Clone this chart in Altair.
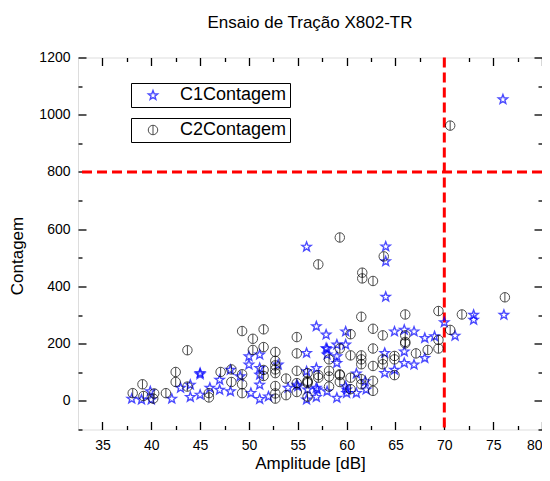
import math
import altair as alt
import pandas as pd

# ---- data ----
c1_x = [38.0, 39.0, 39.9, 40.0, 42.1, 43.0, 44.0, 44.0, 45.0, 45.0, 45.0, 46.0, 47.0, 47.0,
        48.1, 48.1, 49.1, 50.0, 50.0, 50.2, 51.1, 51.1, 51.1, 51.1, 51.1, 52.0, 53.0, 54.0,
        54.9, 55.0, 55.9, 55.9, 55.9, 56.0, 56.9, 56.9, 56.9, 56.9, 57.0, 57.9, 57.9, 58.0,
        58.0, 58.0, 59.0, 59.0, 59.0, 59.0, 59.9, 59.9, 59.9, 60.0, 60.0, 61.0, 61.0, 61.9,
        62.0, 63.9, 63.9, 64.9, 64.9, 65.9, 65.9, 65.9, 66.9, 66.9, 68.0, 68.0, 69.0, 70.0,
        71.1, 73.0, 73.0, 76.1, 55.9, 64.0, 64.0, 64.0, 76.0]
c1_y = [9, 6, 35, 6, 9, 47, 15, 58, 99, 94, 23, 47, 75, 40,
        110, 35, 87, 157, 128, 29, 163, 116, 93, 58, 8, 17, 128, 47,
        58, 52, 169, 105, 6, 41, 262, 116, 47, 15, 41, 233, 186, 163,
        183, 35, 198, 157, 134, 12, 244, 198, 52, 29, 41, 29, 97, 70,
        41, 169, 99, 244, 110, 250, 174, 134, 244, 128, 221, 151, 227, 276,
        229, 302, 285, 302, 540, 541, 489, 365, 1055]

c2_x = [38.1, 39.1, 39.2, 40.2, 40.3, 41.5, 42.5, 42.5, 43.7, 43.7, 45.9, 45.9, 47.1, 48.2,
        48.2, 49.3, 49.3, 49.3, 49.3, 50.4, 50.4, 51.5, 51.5, 51.5, 51.5, 52.7, 52.7, 52.7,
        52.7, 52.7, 52.7, 52.7, 52.7, 53.8, 53.8, 54.9, 54.9, 54.9, 54.9, 54.9, 56.0, 56.0,
        56.0, 56.0, 56.0, 57.1, 57.1, 58.2, 58.2, 58.2, 58.2, 59.3, 59.3, 59.3, 59.3, 60.4,
        60.4, 60.4, 60.4, 61.5, 61.5, 61.5, 61.5, 61.5, 61.5, 62.7, 62.7, 62.7, 62.7, 62.7,
        63.7, 63.7, 63.7, 64.9, 64.9, 64.9, 66.0, 66.0, 66.0, 66.0, 67.1, 68.3, 69.4, 69.4,
        69.4, 70.6, 71.8, 59.3, 57.1, 63.8, 61.6, 61.6, 62.7, 70.6, 76.2]
c2_y = [27, 58, 17, 8, 26, 27, 101, 66, 177, 50, 27, 12, 101, 110,
        66, 93, 58, 27, 244, 217, 178, 250, 188, 108, 87, 171, 140, 124,
        110, 97, 52, 26, 8, 78, 20, 223, 166, 105, 62, 31, 97, 70,
        62, 15, 66, 81, 90, 145, 105, 85, 50, 183, 90, 66, 93, 233,
        159, 81, 41, 294, 159, 145, 128, 76, 58, 252, 183, 122, 70, 35,
        229, 145, 128, 157, 145, 90, 302, 229, 206, 201, 166, 178, 314, 213,
        183, 248, 302, 571, 477, 505, 448, 428, 419, 962, 362]

x_ticks = [35, 40, 45, 50, 55, 60, 65, 70, 75, 80]
x_minor = [35 + 2.5 * i for i in range(19)]
y_ticks = [0, 200, 400, 600, 800, 1000, 1200]
y_minor = [-100 + 100 * i for i in range(14)]
h_line = [800]
v_line = [70]

c1 = pd.DataFrame({"amp": c1_x, "cnt": c1_y, "serie": "C1Contagem"})
c2 = pd.DataFrame({"amp": c2_x, "cnt": c2_y, "serie": "C2Contagem"})
hdf = pd.DataFrame({"cnt": h_line})
vdf = pd.DataFrame({"amp": v_line})

# ---- symbol paths ----
pts = []
for k in range(10):
    r = 1.0 if k % 2 == 0 else 0.42
    a = -math.pi / 2 + k * math.pi / 5
    pts.append(f"{r * math.cos(a):.3f},{r * math.sin(a) + 0.1:.3f}")
STAR = "M" + "L".join(pts) + "Z"
CIRC = "M-1,0A1,1,0,1,1,1,0A1,1,0,1,1,-1,0ZM0,-1L0,1"

W, H = 464, 372
FONT = "Liberation Sans"
xs = alt.Scale(domain=[32.5, 80], nice=False, zero=False)
ys = alt.Scale(domain=[-100, 1200], nice=False, zero=False)

xsize = {"condition": {"test": "datum.value % 5 == 0", "value": 8}, "value": 4}
ysize = {"condition": {"test": "datum.value % 200 == 0", "value": 8}, "value": 4}

def tick_axis(orient, values, size):
    return alt.Axis(orient=orient, offset=-(H if orient in ("top", "bottom") else W),
                    values=values, labels=False, domain=False, grid=False, title=None,
                    tickSize=size, tickColor="black", tickWidth=1.3)

stars = alt.Chart(c1).mark_point(shape=STAR, size=95, filled=False, stroke="#0000ff",
                                  strokeWidth=1.4).encode(
    x=alt.X("amp:Q", scale=xs,
            axis=alt.Axis(orient="bottom", values=x_ticks, ticks=False, domain=False,
                          grid=False, title="Amplitude [dB]", labelFontSize=14,
                          labelFont=FONT, labelColor="black", labelPadding=9,
                          titleFont=FONT, titleFontSize=17, titleFontWeight="normal",
                          titleColor="black", titleY=39, titleBaseline="alphabetic")),
    y=alt.Y("cnt:Q", scale=ys,
            axis=alt.Axis(orient="left", values=y_ticks, ticks=False, domain=False,
                          grid=False, title="Contagem", format="d", labelFontSize=14,
                          labelFont=FONT, labelColor="black", labelPadding=8,
                          titleFont=FONT, titleFontSize=17, titleFontWeight="normal",
                          titleColor="black", titleX=-61, titleY=198, titleAngle=270,
                          titleAlign="center", titleBaseline="middle")),
    shape=alt.Shape("serie:N", scale=alt.Scale(domain=["C1Contagem"], range=[STAR]),
                    legend=alt.Legend(orient="none", legendX=53, legendY=25.5, title=None,
                                      strokeColor="black", padding=3, symbolOffset=10,
                                      labelOffset=18, labelFontSize=18, labelFont=FONT,
                                      labelColor="black", symbolSize=95,
                                      symbolStrokeColor="#0000ff", symbolStrokeWidth=1.4,
                                      symbolFillColor="transparent")),
)

circles = alt.Chart(c2).mark_point(shape=CIRC, size=90, filled=False, stroke="black",
                                    strokeWidth=1).encode(
    x=alt.X("amp:Q", scale=xs, axis=tick_axis("top", x_minor, xsize)),
    y=alt.Y("cnt:Q", scale=ys, axis=tick_axis("right", y_minor, ysize)),
    color=alt.Color("serie:N", scale=alt.Scale(domain=["C2Contagem"], range=["black"]),
                    legend=alt.Legend(orient="none", legendX=53, legendY=60.5, title=None,
                                      strokeColor="black", padding=3, symbolOffset=10,
                                      labelOffset=18, labelFontSize=18, labelFont=FONT,
                                      labelColor="black", symbolSize=90, symbolType=CIRC,
                                      symbolStrokeColor="black", symbolStrokeWidth=1,
                                      symbolFillColor="transparent")),
)

hrule = alt.Chart(hdf).mark_rule(color="#ff0000", strokeWidth=3, strokeDash=[10, 5]).encode(
    y=alt.Y("cnt:Q", scale=ys, axis=tick_axis("left", y_minor, ysize)),
)
vrule = alt.Chart(vdf).mark_rule(color="#ff0000", strokeWidth=3, strokeDash=[10, 5]).encode(
    x=alt.X("amp:Q", scale=xs, axis=tick_axis("bottom", x_minor, xsize)),
)

chart = alt.layer(hrule, vrule, stars, circles).resolve_axis(
    x="independent", y="independent"
).resolve_legend(shape="independent", color="independent").properties(
    width=W, height=H,
    autosize=alt.AutoSizeParams(type="none"),
    padding={"left": 70, "top": 49.5, "right": 0, "bottom": 44.5},
    title=alt.TitleParams("Ensaio de Tração X802-TR", font=FONT, fontSize=17,
                          fontWeight="normal", color="black", anchor="middle", offset=19),
).configure_view(stroke="black", strokeWidth=1.6).configure(background="white")

chart.save("out.html", embed_options={"renderer": "svg", "actions": False})
